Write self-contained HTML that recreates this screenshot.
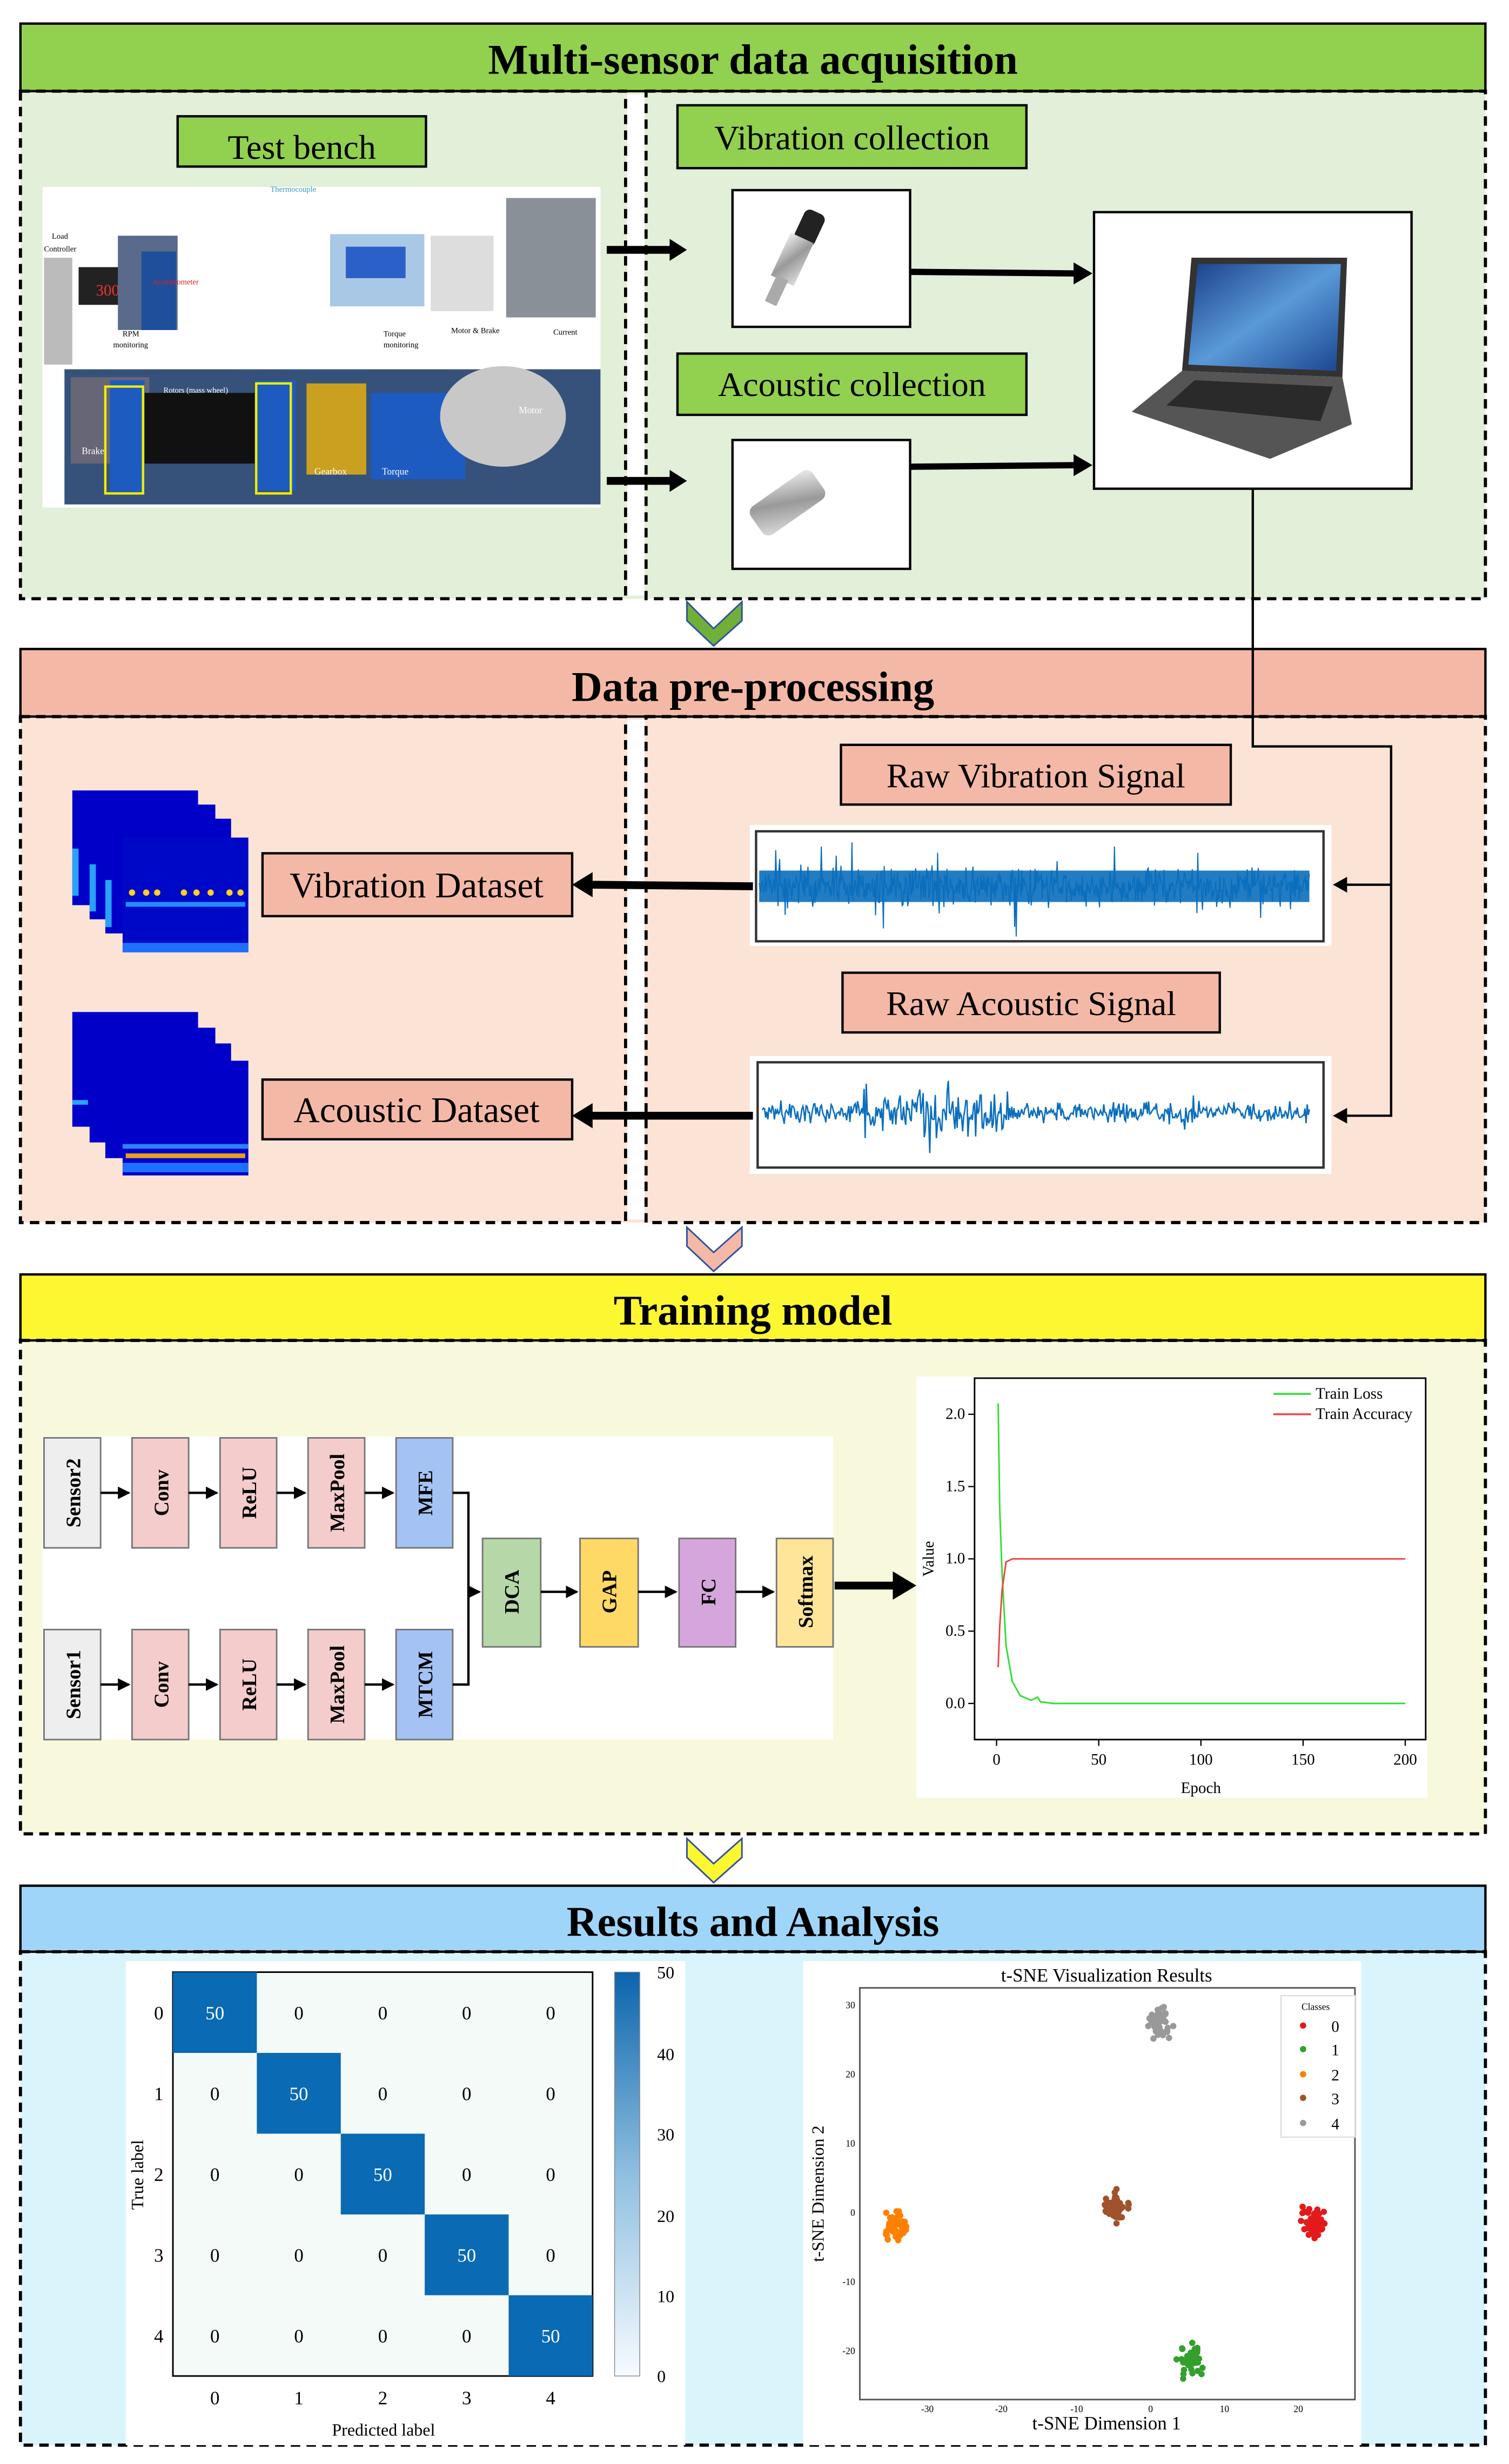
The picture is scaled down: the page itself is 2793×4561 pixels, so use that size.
<!DOCTYPE html>
<html><head><meta charset="utf-8">
<style>
html,body{margin:0;padding:0;background:#fff;}
svg{display:block;}
text{font-family:"Liberation Serif",serif;}
</style></head>
<body>
<svg id="s" width="2793" height="4561" viewBox="0 0 960 1568" preserveAspectRatio="none" xmlns="http://www.w3.org/2000/svg">
<defs>
<marker id="as" markerWidth="8" markerHeight="8" refX="7" refY="4" orient="auto" markerUnits="userSpaceOnUse"><path d="M0,0 L8,4 L0,8 z" fill="#000"/></marker>
<linearGradient id="cb" x1="0" y1="1" x2="0" y2="0"><stop offset="0" stop-color="#f7fbff"/><stop offset="0.5" stop-color="#8fbfe0"/><stop offset="1" stop-color="#0b64ad"/></linearGradient>
<linearGradient id="scr" x1="0" y1="0" x2="1" y2="1"><stop offset="0" stop-color="#1a3f8a"/><stop offset="0.5" stop-color="#5a9ad8"/><stop offset="1" stop-color="#1b4590"/></linearGradient>
<linearGradient id="metal" x1="0" y1="0" x2="1" y2="1"><stop offset="0" stop-color="#eee"/><stop offset="0.5" stop-color="#999"/><stop offset="1" stop-color="#ddd"/></linearGradient>
</defs>

<!-- ===== Section 1 ===== -->
<rect x="13" y="58" width="932" height="323" fill="#e2efd9"/>
<rect x="13" y="15" width="932" height="43" fill="#92d050" stroke="#000" stroke-width="1.5"/>
<text x="479" y="47" font-size="27" font-weight="bold" text-anchor="middle">Multi-sensor data acquisition</text>
<rect x="13" y="58" width="385" height="323" fill="none" stroke="#000" stroke-width="2" stroke-dasharray="6 4"/>
<rect x="411" y="58" width="534" height="323" fill="none" stroke="#000" stroke-width="2" stroke-dasharray="6 4"/>
<rect x="399" y="60" width="11" height="319" fill="#fff"/>
<rect x="113" y="74" width="158" height="32" fill="#92d050" stroke="#000" stroke-width="1.5"/>
<text x="192" y="101" font-size="22" text-anchor="middle">Test bench</text>
<!-- test bench photo -->
<rect x="27" y="119" width="355" height="204" fill="#fff"/>
<rect x="28" y="164" width="18" height="68" fill="#bbb"/>
<rect x="50" y="170" width="44" height="24" fill="#222"/>
<text x="71" y="188" font-size="10" fill="#e33" text-anchor="middle">3009</text>
<rect x="75" y="150" width="38" height="60" fill="#5a6a8a"/>
<rect x="90" y="160" width="22" height="50" fill="#1f4f9b"/>
<rect x="210" y="149" width="60" height="46" fill="#a8c8e6"/>
<rect x="220" y="157" width="38" height="20" fill="#2a60c8"/>
<rect x="274" y="150" width="40" height="48" fill="#ddd"/>
<rect x="322" y="126" width="57" height="76" fill="#8a9098"/>
<rect x="41" y="235" width="341" height="86" fill="#36527a"/>
<rect x="45" y="240" width="50" height="55" fill="#667"/>
<rect x="70" y="242" width="22" height="72" fill="#1d5bc0"/>
<rect x="92" y="250" width="70" height="45" fill="#111"/>
<rect x="163" y="242" width="25" height="70" fill="#1d5bc0"/>
<rect x="195" y="244" width="38" height="58" fill="#c9a020"/>
<rect x="236" y="250" width="60" height="55" fill="#1d5bc0"/>
<ellipse cx="320" cy="265" rx="40" ry="32" fill="#c8c8c8"/>
<rect x="67" y="246" width="24" height="68" fill="none" stroke="#ee0" stroke-width="1.5"/>
<rect x="163" y="244" width="22" height="70" fill="none" stroke="#ee0" stroke-width="1.5"/>
<g font-family="Liberation Sans" font-size="5" fill="#000">
<text x="33" y="152">Load</text><text x="28" y="160">Controller</text>
<text x="97" y="181" fill="#d22">Accelerometer</text>
<text x="78" y="214">RPM</text><text x="72" y="221">monitoring</text>
<text x="104" y="250" fill="#fff">Rotors (mass wheel)</text>
<text x="244" y="214">Torque</text><text x="244" y="221">monitoring</text>
<text x="287" y="212">Motor &amp; Brake</text>
<text x="352" y="213">Current</text>
<text x="330" y="263" fill="#fff" font-size="6">Motor</text>
<text x="52" y="289" fill="#fff" font-size="6">Brake</text>
<text x="200" y="302" fill="#fff" font-size="6">Gearbox</text>
<text x="243" y="302" fill="#fff" font-size="6">Torque</text>
<text x="172" y="122" fill="#39c">Thermocouple</text>
</g>
<line x1="386" y1="159" x2="428" y2="159" stroke="#000" stroke-width="5"/>
<path d="M426,152 L437,159 L426,166z" fill="#000"/>
<line x1="386" y1="306" x2="428" y2="306" stroke="#000" stroke-width="5"/>
<path d="M426,299 L437,306 L426,313z" fill="#000"/>
<rect x="431" y="67" width="222" height="40" fill="#92d050" stroke="#000" stroke-width="1.5"/>
<text x="542" y="95" font-size="22" text-anchor="middle">Vibration collection</text>
<rect x="431" y="225" width="222" height="39" fill="#92d050" stroke="#000" stroke-width="1.5"/>
<text x="542" y="252" font-size="22" text-anchor="middle">Acoustic collection</text>
<rect x="466" y="121" width="113" height="87" fill="#fff" stroke="#000" stroke-width="1.5"/>
<rect x="508" y="134" width="14" height="22" rx="4" fill="#222" transform="rotate(25 515 145)"/>
<rect x="496" y="150" width="16" height="30" fill="url(#metal)" transform="rotate(25 504 165)"/>
<rect x="490" y="176" width="8" height="18" fill="#aaa" transform="rotate(25 494 185)"/>
<rect x="466" y="280" width="113" height="82" fill="#fff" stroke="#000" stroke-width="1.5"/>
<rect x="490" y="296" width="22" height="48" rx="5" fill="url(#metal)" transform="rotate(55 501 320)"/>
<line x1="579" y1="173" x2="685" y2="174" stroke="#000" stroke-width="4"/>
<path d="M683,167 L695,174 L683,181z" fill="#000"/>
<line x1="579" y1="297" x2="685" y2="296" stroke="#000" stroke-width="4"/>
<path d="M683,289 L695,296 L683,303z" fill="#000"/>
<rect x="696" y="135" width="202" height="176" fill="#fff" stroke="#000" stroke-width="1.5"/>
<path d="M758,164 L857,164 L854,240 L752,236z" fill="#333"/>
<path d="M762,168 L853,168 L850,236 L756,232z" fill="url(#scr)"/>
<path d="M752,236 L854,240 L860,270 L808,292 L720,262z" fill="#555"/>
<path d="M760,242 L848,246 L840,268 L742,258z" fill="#2a2a2a"/>
<path d="M437,383 L454,400 L472,383 L472,395 L454,411 L437,395z" fill="#70b038" stroke="#3050a0" stroke-width="1"/>

<!-- ===== Section 2 ===== -->
<rect x="13" y="456" width="932" height="322" fill="#fbe4d6"/>
<rect x="13" y="413" width="932" height="43" fill="#f4b9a6" stroke="#000" stroke-width="1.5"/>
<text x="479" y="446" font-size="27" font-weight="bold" text-anchor="middle">Data pre-processing</text>
<rect x="13" y="456" width="385" height="322" fill="none" stroke="#000" stroke-width="2" stroke-dasharray="6 4"/>
<rect x="411" y="456" width="534" height="322" fill="none" stroke="#000" stroke-width="2" stroke-dasharray="6 4"/>
<rect x="399" y="458" width="11" height="318" fill="#fff"/>
<!-- connector laptop -> signals -->
<polyline points="797,311 797,475 885,475 885,710 855,710" fill="none" stroke="#000" stroke-width="1.5"/>
<line x1="885" y1="563" x2="855" y2="563" stroke="#000" stroke-width="1.5"/>
<path d="M857,558 L848,563 L857,568z" fill="#000"/>
<path d="M857,705 L848,710 L857,715z" fill="#000"/>
<rect x="535" y="474" width="248" height="38" fill="#f4b9a6" stroke="#000" stroke-width="1.5"/>
<text x="659" y="501" font-size="22" text-anchor="middle">Raw Vibration Signal</text>
<rect x="536" y="619" width="240" height="38" fill="#f4b9a6" stroke="#000" stroke-width="1.5"/>
<text x="656" y="646" font-size="22" text-anchor="middle">Raw Acoustic Signal</text>
<rect x="477" y="525" width="370" height="77" fill="#fff"/>
<rect x="481" y="529" width="361" height="70" fill="#fff" stroke="#333" stroke-width="1.5"/>
<rect x="483" y="554" width="350" height="20" fill="#0a6ebd" opacity="0.9"/>
<g id="vib"></g>
<rect x="477" y="672" width="370" height="75" fill="#fff"/>
<rect x="482" y="676" width="360" height="67" fill="#fff" stroke="#333" stroke-width="1.5"/>
<g id="aco"></g>
<rect x="167" y="543" width="197" height="40" fill="#f4b9a6" stroke="#000" stroke-width="1.5"/>
<text x="265" y="571" font-size="23" text-anchor="middle">Vibration Dataset</text>
<rect x="167" y="687" width="197" height="38" fill="#f4b9a6" stroke="#000" stroke-width="1.5"/>
<text x="265" y="714" font-size="23" text-anchor="middle">Acoustic Dataset</text>
<line x1="479" y1="564" x2="375" y2="563" stroke="#000" stroke-width="5"/>
<path d="M377,555 L364,563 L377,571z" fill="#000"/>
<line x1="479" y1="710" x2="375" y2="710" stroke="#000" stroke-width="5"/>
<path d="M377,702 L364,710 L377,718z" fill="#000"/>
<g>
<rect x="46" y="503" width="80" height="73" fill="#0000c8"/>
<rect x="57" y="512" width="80" height="73" fill="#0000c8"/>
<rect x="67" y="521" width="80" height="73" fill="#0000c8"/>
<rect x="78" y="533" width="80" height="73" fill="#0008c8"/>
<rect x="46" y="540" width="4" height="30" fill="#2aa0ff"/>
<rect x="57" y="550" width="4" height="30" fill="#2aa0ff"/>
<rect x="67" y="560" width="4" height="30" fill="#2aa0ff"/>
<g fill="#ffd020"><circle cx="84" cy="568" r="2"/><circle cx="93" cy="568" r="2"/><circle cx="100" cy="568" r="2"/><circle cx="117" cy="568" r="2"/><circle cx="125" cy="568" r="2"/><circle cx="134" cy="568" r="2"/><circle cx="146" cy="568" r="2"/><circle cx="153" cy="568" r="2"/></g>
<rect x="80" y="574" width="76" height="3" fill="#2090ff"/>
<rect x="78" y="600" width="80" height="6" fill="#2070ff"/>
</g>
<g>
<rect x="46" y="644" width="80" height="73" fill="#0000c8"/>
<rect x="57" y="654" width="80" height="73" fill="#0000c8"/>
<rect x="67" y="664" width="80" height="73" fill="#0000c8"/>
<rect x="78" y="675" width="80" height="73" fill="#0000c8"/>
<rect x="46" y="700" width="10" height="3" fill="#2aa0ff"/>
<rect x="78" y="728" width="80" height="3" fill="#3080ff"/>
<rect x="80" y="734" width="76" height="3" fill="#e8a020"/>
<rect x="78" y="740" width="80" height="6" fill="#2070ff"/>
</g>
<path d="M437,781 L454,797 L472,781 L472,793 L454,809 L437,793z" fill="#f4b9a6" stroke="#3050a0" stroke-width="1"/>

<!-- ===== Section 3 ===== -->
<rect x="13" y="853" width="932" height="314" fill="#f8f8dc"/>
<rect x="13" y="811" width="932" height="42" fill="#fdf731" stroke="#000" stroke-width="1.5"/>
<text x="479" y="843" font-size="27" font-weight="bold" text-anchor="middle">Training model</text>
<rect x="13" y="853" width="932" height="314" fill="none" stroke="#000" stroke-width="2" stroke-dasharray="6 4"/>
<rect x="27" y="914" width="503" height="193" fill="#fff"/>
<g stroke="#777" stroke-width="1">
<rect x="28" y="915" width="36" height="70" fill="#eee"/>
<rect x="84" y="915" width="36" height="70" fill="#f4cccc"/>
<rect x="140" y="915" width="36" height="70" fill="#f4cccc"/>
<rect x="196" y="915" width="36" height="70" fill="#f4cccc"/>
<rect x="252" y="915" width="36" height="70" fill="#a4c2f4"/>
<rect x="28" y="1037" width="36" height="70" fill="#eee"/>
<rect x="84" y="1037" width="36" height="70" fill="#f4cccc"/>
<rect x="140" y="1037" width="36" height="70" fill="#f4cccc"/>
<rect x="196" y="1037" width="36" height="70" fill="#f4cccc"/>
<rect x="252" y="1037" width="36" height="70" fill="#a4c2f4"/>
<rect x="307" y="979" width="37" height="69" fill="#b6d7a8"/>
<rect x="369" y="979" width="37" height="69" fill="#ffd966"/>
<rect x="432" y="979" width="36" height="69" fill="#d5a6db"/>
<rect x="494" y="979" width="36" height="69" fill="#ffe599"/>
</g>
<g font-size="13" font-weight="bold" text-anchor="middle">
<text transform="translate(51,950) rotate(-90)">Sensor2</text>
<text transform="translate(107,950) rotate(-90)">Conv</text>
<text transform="translate(163,950) rotate(-90)">ReLU</text>
<text transform="translate(219,950) rotate(-90)">MaxPool</text>
<text transform="translate(275,950) rotate(-90)">MFE</text>
<text transform="translate(51,1072) rotate(-90)">Sensor1</text>
<text transform="translate(107,1072) rotate(-90)">Conv</text>
<text transform="translate(163,1072) rotate(-90)">ReLU</text>
<text transform="translate(219,1072) rotate(-90)">MaxPool</text>
<text transform="translate(275,1072) rotate(-90)">MTCM</text>
<text transform="translate(330,1013) rotate(-90)">DCA</text>
<text transform="translate(392,1013) rotate(-90)">GAP</text>
<text transform="translate(455,1013) rotate(-90)">FC</text>
<text transform="translate(517,1013) rotate(-90)">Softmax</text>
</g>
<g stroke="#000" stroke-width="1.5" fill="none">
<line x1="64" y1="950" x2="82" y2="950" marker-end="url(#as)"/>
<line x1="120" y1="950" x2="138" y2="950" marker-end="url(#as)"/>
<line x1="176" y1="950" x2="194" y2="950" marker-end="url(#as)"/>
<line x1="232" y1="950" x2="250" y2="950" marker-end="url(#as)"/>
<line x1="64" y1="1072" x2="82" y2="1072" marker-end="url(#as)"/>
<line x1="120" y1="1072" x2="138" y2="1072" marker-end="url(#as)"/>
<line x1="176" y1="1072" x2="194" y2="1072" marker-end="url(#as)"/>
<line x1="232" y1="1072" x2="250" y2="1072" marker-end="url(#as)"/>
<polyline points="288,950 298,950 298,1072 288,1072"/>
<line x1="298" y1="1013" x2="305" y2="1013" marker-end="url(#as)"/>
<line x1="344" y1="1013" x2="367" y2="1013" marker-end="url(#as)"/>
<line x1="406" y1="1013" x2="430" y2="1013" marker-end="url(#as)"/>
<line x1="468" y1="1013" x2="492" y2="1013" marker-end="url(#as)"/>
</g>
<line x1="531" y1="1009" x2="570" y2="1009" stroke="#000" stroke-width="5"/>
<path d="M568,1000 L583,1009 L568,1018z" fill="#000"/>
<rect x="583" y="876" width="325" height="268" fill="#fff"/>
<rect x="620" y="877" width="287" height="230" fill="none" stroke="#000" stroke-width="1"/>
<g font-size="10" text-anchor="end">
<text x="614" y="903">2.0</text><text x="614" y="949">1.5</text><text x="614" y="995">1.0</text><text x="614" y="1041">0.5</text><text x="614" y="1087">0.0</text>
</g>
<g stroke="#000" stroke-width="0.8">
<line x1="616" y1="900" x2="620" y2="900"/><line x1="616" y1="946" x2="620" y2="946"/><line x1="616" y1="992" x2="620" y2="992"/><line x1="616" y1="1038" x2="620" y2="1038"/><line x1="616" y1="1084" x2="620" y2="1084"/>
<line x1="634" y1="1107" x2="634" y2="1111"/><line x1="699" y1="1107" x2="699" y2="1111"/><line x1="764" y1="1107" x2="764" y2="1111"/><line x1="829" y1="1107" x2="829" y2="1111"/><line x1="894" y1="1107" x2="894" y2="1111"/>
</g>
<g font-size="10" text-anchor="middle">
<text x="634" y="1123">0</text><text x="699" y="1123">50</text><text x="764" y="1123">100</text><text x="829" y="1123">150</text><text x="894" y="1123">200</text>
<text x="764" y="1141">Epoch</text>
<text transform="translate(594,992) rotate(-90)">Value</text>
</g>
<polyline points="635,893 636,960 637.5,1001 640,1047 644,1070 649,1079 656,1082 660,1080 662,1083 670,1084 894,1084" fill="none" stroke="#33dd33" stroke-width="1"/>
<polyline points="635,1061 636,1035 637.5,1012 640,994 644,992 894,992" fill="none" stroke="#ee4444" stroke-width="1"/>
<line x1="810" y1="887" x2="834" y2="887" stroke="#33dd33" stroke-width="1.2"/>
<line x1="810" y1="900" x2="834" y2="900" stroke="#ee4444" stroke-width="1.2"/>
<text x="837" y="890" font-size="10">Train Loss</text>
<text x="837" y="903" font-size="10">Train Accuracy</text>
<path d="M437,1170 L454,1186 L472,1170 L472,1182 L454,1198 L437,1182z" fill="#fdf731" stroke="#3050a0" stroke-width="1"/>

<!-- ===== Section 4 ===== -->
<rect x="13" y="1242" width="932" height="314" fill="#d9f5fb"/>
<rect x="13" y="1200" width="932" height="42" fill="#9fd5f8" stroke="#000" stroke-width="1.5"/>
<text x="479" y="1232" font-size="27" font-weight="bold" text-anchor="middle">Results and Analysis</text>
<rect x="13" y="1242" width="932" height="314" fill="none" stroke="#000" stroke-width="2" stroke-dasharray="6 4"/>
<rect x="80" y="1248" width="356" height="308" fill="#fff"/>
<rect x="110" y="1255" width="267" height="257" fill="#f3faf8" stroke="#000" stroke-width="1"/>
<g fill="#0a6ab3">
<rect x="110" y="1255" width="53.4" height="51.4"/>
<rect x="163.4" y="1306.4" width="53.4" height="51.4"/>
<rect x="216.8" y="1357.8" width="53.4" height="51.4"/>
<rect x="270.2" y="1409.2" width="53.4" height="51.4"/>
<rect x="323.6" y="1460.6" width="53.4" height="51.4"/>
</g>
<g id="cm" font-size="12" text-anchor="middle"></g>
<rect x="391" y="1255" width="16" height="257" fill="url(#cb)" stroke="#888" stroke-width="0.5"/>
<g font-size="11">
<text x="418" y="1259">50</text><text x="418" y="1311">40</text><text x="418" y="1362">30</text><text x="418" y="1414">20</text><text x="418" y="1465">10</text><text x="418" y="1516">0</text>
</g>
<text x="244" y="1550" font-size="11" text-anchor="middle">Predicted label</text>
<text transform="translate(91,1384) rotate(-90)" font-size="11" text-anchor="middle">True label</text>
<rect x="511" y="1248" width="355" height="308" fill="#fff"/>
<text x="704" y="1261" font-size="12" text-anchor="middle" font-family="Liberation Sans">t-SNE Visualization Results</text>
<rect x="547" y="1265" width="315" height="262" fill="none" stroke="#555" stroke-width="1"/>
<g font-size="6" font-family="Liberation Sans" text-anchor="end">
<text x="544" y="1278">30</text><text x="544" y="1322">20</text><text x="544" y="1366">10</text><text x="544" y="1410">0</text><text x="544" y="1454">-10</text><text x="544" y="1498">-20</text>
</g>
<g font-size="6" font-family="Liberation Sans" text-anchor="middle">
<text x="590" y="1535">-30</text><text x="637" y="1535">-20</text><text x="685" y="1535">-10</text><text x="732" y="1535">0</text><text x="779" y="1535">10</text><text x="826" y="1535">20</text>
</g>
<text x="704" y="1546" font-size="12" font-family="Liberation Sans" text-anchor="middle">t-SNE Dimension 1</text>
<text transform="translate(524,1396) rotate(-90)" font-size="11" font-family="Liberation Sans" text-anchor="middle">t-SNE Dimension 2</text>
<g id="pts"></g>
<rect x="815" y="1270" width="47" height="90" fill="#fff" stroke="#ddd" stroke-width="0.8"/>
<text x="837" y="1279" font-size="6" font-family="Liberation Sans" text-anchor="middle">Classes</text>
<g font-size="10" font-family="Liberation Sans">
<circle cx="829" cy="1289" r="2" fill="#e31a1c"/><text x="847" y="1293">0</text>
<circle cx="829" cy="1304" r="2" fill="#33a02c"/><text x="847" y="1308">1</text>
<circle cx="829" cy="1320" r="2" fill="#ff7f00"/><text x="847" y="1324">2</text>
<circle cx="829" cy="1335" r="2" fill="#a0522d"/><text x="847" y="1339">3</text>
<circle cx="829" cy="1351" r="2" fill="#999"/><text x="847" y="1355">4</text>
</g>
</svg>
<script>
(function(){
var NS="http://www.w3.org/2000/svg";
var seed=7;function r(){seed=(seed*16807)%2147483647;return seed/2147483647;}
function g(){return (r()+r()+r()-1.5)/1.5;}
var p=[];for(var i=0;i<=700;i++){var x=483+i*0.5;var a=16;if(r()<0.08)a=40;var y=564+g()*a;y=Math.max(532,Math.min(596,y));p.push(x.toFixed(1)+","+y.toFixed(1));}
var pl=document.createElementNS(NS,"polyline");pl.setAttribute("points",p.join(" "));pl.setAttribute("fill","none");pl.setAttribute("stroke","#0a6ebd");pl.setAttribute("stroke-width","0.7");document.getElementById("vib").appendChild(pl);
p=[];for(i=0;i<=500;i++){x=485+i*0.696;var t=i/500;var a2=9;if(t>0.18&&t<0.45)a2=22;if(t>0.3&&t<0.36)a2=30;if(t>0.72&&t<0.8)a2=13;var y2=708+g()*a2;y2=Math.max(680,Math.min(740,y2));p.push(x.toFixed(1)+","+y2.toFixed(1));}
pl=document.createElementNS(NS,"polyline");pl.setAttribute("points",p.join(" "));pl.setAttribute("fill","none");pl.setAttribute("stroke","#0a6ebd");pl.setAttribute("stroke-width","0.9");document.getElementById("aco").appendChild(pl);
var cm=document.getElementById("cm");
for(var rI=0;rI<5;rI++)for(var c=0;c<5;c++){var tx=document.createElementNS(NS,"text");tx.setAttribute("x",(136.7+c*53.4).toFixed(1));tx.setAttribute("y",(1285+rI*51.4).toFixed(1));tx.setAttribute("text-anchor","middle");tx.setAttribute("fill",rI==c?"#fff":"#000");tx.textContent=rI==c?"50":"0";cm.appendChild(tx);}
var lb=["0","1","2","3","4"];
for(i=0;i<5;i++){var t1=document.createElementNS(NS,"text");t1.setAttribute("x",(136.7+i*53.4).toFixed(1));t1.setAttribute("y","1530");t1.setAttribute("text-anchor","middle");t1.textContent=lb[i];cm.appendChild(t1);
var t2=document.createElementNS(NS,"text");t2.setAttribute("x","101");t2.setAttribute("y",(1285+i*51.4).toFixed(1));t2.setAttribute("text-anchor","middle");t2.textContent=lb[i];cm.appendChild(t2);}
var cl=[[737,1287,"#999"],[758,1502,"#33a02c"],[571,1416,"#ff7f00"],[709,1404,"#a0522d"],[836,1414,"#e31a1c"]];
var gp=document.getElementById("pts");
cl.forEach(function(k){for(var j=0;j<50;j++){var ci=document.createElementNS(NS,"circle");ci.setAttribute("cx",(k[0]+g()*11).toFixed(1));ci.setAttribute("cy",(k[1]+g()*14).toFixed(1));ci.setAttribute("r","2");ci.setAttribute("fill",k[2]);gp.appendChild(ci);}});
})();
</script>
</body></html>
